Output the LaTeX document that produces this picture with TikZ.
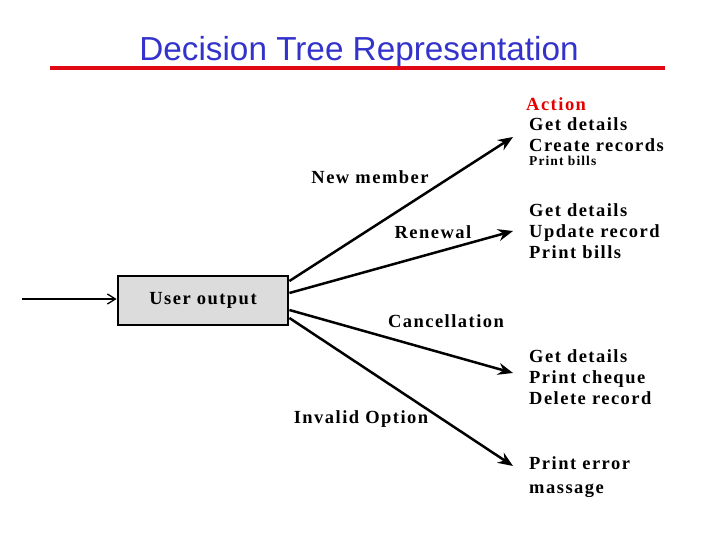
\documentclass[tikz,border=0pt]{standalone}
\usepackage{fontspec}
\setmainfont{Liberation Serif}
\setsansfont{Liberation Sans}
\newfontfamily\lblfont[LetterSpace=8]{Liberation Serif}
\usetikzlibrary{arrows.meta}
\definecolor{titleblue}{RGB}{51,51,204}
\definecolor{barred}{RGB}{225,10,20}
\definecolor{boxgray}{RGB}{220,220,220}
\tikzset{
  lbl/.style={font=\lblfont\bfseries\fontsize{18.5}{21}\selectfont, inner sep=0pt},
  acts/.style={lbl, anchor=north west, align=left},
  arr/.style={line width=2.5pt, -{Stealth[length=15pt,width=12pt,inset=5pt]}},
}
\begin{document}
\begin{tikzpicture}[x=1pt, y=-1pt]
		\useasboundingbox (0,0) rectangle (720,540);
		% title and bar
		\node[titleblue, font=\sffamily\fontsize{33.3}{38}\selectfont] (title) at (359,52) {Decision Tree Representation};
		\draw[barred, line width=4.5pt] (50,68) -- (665,68);
		% root box
		\node[draw, line width=2.8pt, fill=boxgray, minimum width=170pt, minimum height=49pt, lbl] (out) at (203,300.5) {User output};
		\coordinate (in) at (22,299);
		\draw[line width=1.3pt, -{Straight Barb[length=8pt,width=10pt]}] (in) -- (in -| out.west);
		% arrow tips
		\coordinate (t1) at (513,137);
		\coordinate (t2) at (513,231);
		\coordinate (t3) at (513,373);
		\coordinate (t4) at (513,466);
		\draw[arr] ([yshift=19.5pt]out.east) -- (t1);
		\draw[arr] ([yshift=7.5pt]out.east) -- (t2);
		\draw[arr] ([yshift=-9.5pt]out.east) -- (t3);
		\draw[arr] ([yshift=-17.5pt]out.east) -- (t4);
		% branch labels
		\node[lbl] (nm) at (370,177) {New member};
		\node[lbl] (rn) at (433,232) {Renewal};
		\node[lbl] (cn) at (446,321) {Cancellation};
		\node[lbl] (io) at (361,419) {Invalid Option};
		% actions
		\node[lbl, red!90!black, anchor=west] (act) at (526,104) {Action};
		\node[acts] (a1) at (529,117.5) {Get details\\Create records\\[-7pt]{\fontsize{13.5}{14}\selectfont Print bills}};
		\node[acts] (a2) at (529,203.5) {Get details\\Update record\\Print bills};
		\node[acts] (a3) at (529,349.5) {Get details\\Print cheque\\Delete record};
		\node[acts] (a4) at (529,456.5) {Print error\\[3pt]massage};
	\end{tikzpicture}
\end{document}
